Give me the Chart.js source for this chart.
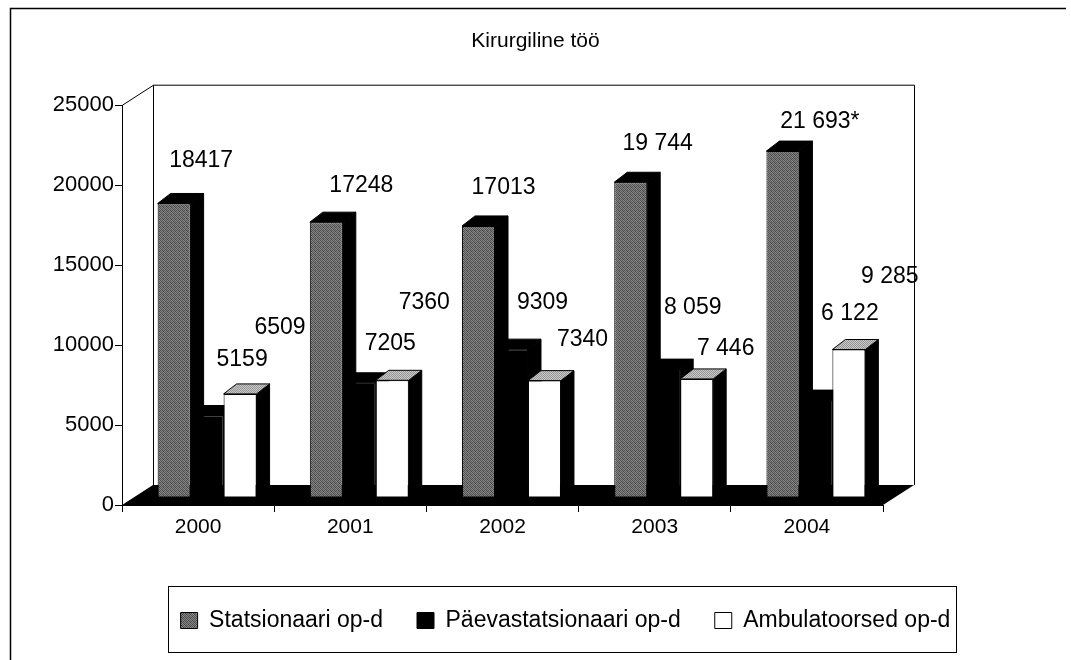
<!DOCTYPE html>
<html><head><meta charset="utf-8">
<script src="https://cdn.jsdelivr.net/npm/chart.js@4"></script>
<style>html,body{margin:0;padding:0;background:#fff;}</style>
</head><body>
<canvas id="c" width="1071" height="660" style="display:block;width:1071px;height:660px"></canvas>
<script>
// ---- data ----
const categories = ['2000', '2001', '2002', '2003', '2004'];
const seriesNames = ['Statsionaari op-d', 'Päevastatsionaari op-d', 'Ambulatoorsed op-d'];
const statsionaari = [18417, 17248, 17013, 19744, 21693];
const paevastatsionaari = [5159, 7205, 9309, 8059, 6122];
const ambulatoorsed = [6509, 7360, 7340, 7446, 9285];
const statsionaariLabels = ['18417', '17248', '17013', '19 744', '21 693*'];
const paevastatsionaariLabels = ['5159', '7205', '9309', '8 059', '6 122'];
const ambulatoorsedLabels = ['6509', '7360', '7340', '7 446', '9 285'];
const yTicks = [0, 5000, 10000, 15000, 20000, 25000];

// ---- style helpers ----
const FONT = "'Liberation Sans', Arial, sans-serif";
function makePattern(levels) {
  const n = levels.length;
  const c = document.createElement('canvas');
  c.width = n; c.height = n;
  const g = c.getContext('2d');
  for (let r = 0; r < n; r++) for (let k = 0; k < n; k++) {
    const v = levels[r][k];
    g.fillStyle = 'rgb(' + v + ',' + v + ',' + v + ')';
    g.fillRect(k, r, 1, 1);
  }
  return g.createPattern(c, 'repeat');
}
const grayPattern = makePattern([[70,130,90,140],[140,65,120,80],[95,135,70,125],[130,80,140,85]]);
const topPattern = makePattern([[150,200],[200,150]]);

const BAR_SHIFT = {x: 9, y: -7};     // bars sit a little behind the floor front edge
const BAR_DEPTH = {x: 13, y: -10};   // 3D depth of each bar
const WALL_DEPTH = {x: 31, y: -20};  // depth of the floor / walls
const LEGEND_SHIFT = 30;
// label placement relative to the top-centre of each bar front (as placed in the original)
const labelNudge = [
  [[27, -43], [35, -37], [25, -38], [27, -39], [37, -29]],
  [[35, -56], [31, -39], [31, -46], [29, -61], [34, -86]],
  [[40, -66], [32, -78], [38, -41], [29, -30], [41, -73]]
];
const seriesStyle = [
  {front: grayPattern, side: '#000', top: '#000', labels: statsionaariLabels},
  {front: '#000', side: '#000', top: '#000', labels: paevastatsionaariLabels},
  {front: '#fff', side: '#000', top: topPattern, labels: ambulatoorsedLabels}
];

const threeD = {
  id: 'threeD',
  afterLayout(chart) {
    const lg = chart.legend;
    lg.left += LEGEND_SHIFT; lg.right += LEGEND_SHIFT;
  },
  beforeDraw(chart) {
    const ctx = chart.ctx;
    ctx.save();
    ctx.fillStyle = '#fff';
    ctx.fillRect(0, 0, chart.width, chart.height);
    ctx.strokeStyle = '#000'; ctx.lineWidth = 1.5;
    ctx.beginPath();
    ctx.moveTo(10.5, 660); ctx.lineTo(10.5, 8.5); ctx.lineTo(1066, 8.5);
    ctx.stroke();
    ctx.restore();
  },
  beforeDatasetsDraw(chart) {
    const ctx = chart.ctx, a = chart.chartArea;
    const L = a.left, R = a.right, T = a.top, B = a.bottom;
    const dx = WALL_DEPTH.x, dy = WALL_DEPTH.y;
    ctx.save();
    ctx.fillStyle = '#000';
    ctx.beginPath();
    ctx.moveTo(L, B); ctx.lineTo(R, B); ctx.lineTo(R + dx, B + dy); ctx.lineTo(L + dx, B + dy);
    ctx.closePath(); ctx.fill();
    ctx.strokeStyle = '#000'; ctx.lineWidth = 1;
    ctx.beginPath();
    ctx.moveTo(L + 0.5, T); ctx.lineTo(L + dx + 0.5, T + dy);
    ctx.lineTo(R + dx + 0.5, T + dy); ctx.lineTo(R + dx + 0.5, B + dy);
    ctx.moveTo(L + dx + 0.5, T + dy); ctx.lineTo(L + dx + 0.5, B + dy);
    ctx.stroke();
    ctx.restore();

    ctx.save();
    ctx.translate(BAR_SHIFT.x, BAR_SHIFT.y);
    const sx = BAR_DEPTH.x, sy = BAR_DEPTH.y;
    chart.data.datasets.forEach((ds, di) => {
      const meta = chart.getDatasetMeta(di);
      const st = seriesStyle[di];
      meta.data.forEach(el => {
        const p = el.getProps(['x', 'y', 'base', 'width'], true);
        const l = p.x - p.width / 2, r = p.x + p.width / 2, t = p.y, b = p.base;
        ctx.fillStyle = st.side; ctx.strokeStyle = '#000'; ctx.lineWidth = 1;
        ctx.beginPath();
        ctx.moveTo(r, t); ctx.lineTo(r + sx, t + sy); ctx.lineTo(r + sx, b + sy); ctx.lineTo(r, b);
        ctx.closePath(); ctx.fill(); ctx.stroke();
        ctx.fillStyle = st.top;
        ctx.beginPath();
        ctx.moveTo(l, t); ctx.lineTo(l + sx, t + sy); ctx.lineTo(r + sx, t + sy); ctx.lineTo(r, t);
        ctx.closePath(); ctx.fill(); ctx.stroke();
      });
    });
  },
  afterDatasetsDraw(chart) {
    const ctx = chart.ctx;
    ctx.restore();
    ctx.save();
    ctx.fillStyle = '#000';
    ctx.font = '23px ' + FONT;
    ctx.textAlign = 'center';
    ctx.textBaseline = 'middle';
    chart.data.datasets.forEach((ds, di) => {
      const meta = chart.getDatasetMeta(di);
      const st = seriesStyle[di];
      meta.data.forEach((el, i) => {
        const p = el.getProps(['x', 'y'], true);
        const n = labelNudge[di][i];
        ctx.fillText(st.labels[i], p.x + BAR_SHIFT.x + n[0], p.y + BAR_SHIFT.y + n[1]);
      });
    });
    ctx.restore();
  },
  afterDraw(chart) {
    const lg = chart.legend, ctx = chart.ctx;
    const pad = lg.options.labels.padding;
    const lw = lg.lineWidths[0];
    const startX = (lg.left + pad + lg.right - lw) / 2;
    ctx.save();
    ctx.strokeStyle = '#000'; ctx.lineWidth = 1;
    ctx.strokeRect(Math.round(startX - 13) + 0.5, 586.5, Math.round(lw - pad + 18), 66);
    ctx.restore();
  }
};

new Chart(document.getElementById('c'), {
  type: 'bar',
  data: {
    labels: categories,
    datasets: [
      {label: seriesNames[0], data: statsionaari, backgroundColor: grayPattern, borderColor: '#000', borderWidth: 1},
      {label: seriesNames[1], data: paevastatsionaari, backgroundColor: '#000', borderColor: '#000', borderWidth: 1},
      {label: seriesNames[2], data: ambulatoorsed, backgroundColor: '#fff', borderColor: '#000', borderWidth: 1}
    ]
  },
  options: {
    responsive: false,
    devicePixelRatio: 1,
    animation: false,
    layout: {padding: {left: 0, right: 0, top: 0, bottom: 18}},
    datasets: {bar: {categoryPercentage: 0.65, barPercentage: 1.0, borderSkipped: false}},
    plugins: {
      title: {
        display: true, text: 'Kirurgiline töö', color: '#000',
        font: {family: FONT, size: 21, weight: 'normal'},
        padding: {top: 29, bottom: 51}
      },
      legend: {
        position: 'bottom',
        labels: {
          color: '#000', font: {family: FONT, size: 23},
          boxWidth: 17, boxHeight: 16, padding: 34
        }
      },
      tooltip: {enabled: false}
    },
    scales: {
      x: {
        type: 'category', offset: true,
        grid: {display: true, drawOnChartArea: false, drawTicks: true, tickLength: 7, color: '#000', offset: true},
        border: {display: true, color: '#000', width: 1},
        ticks: {color: '#000', font: {family: FONT, size: 21}, padding: 3, maxRotation: 0},
        afterFit(s) { s.height = 70; }
      },
      y: {
        min: 0, max: 25000,
        afterBuildTicks(s) { s.ticks = yTicks.map(v => ({value: v})); },
        grid: {display: true, drawOnChartArea: false, drawTicks: true, tickLength: 7, color: '#000'},
        border: {display: true, color: '#000', width: 1},
        ticks: {color: '#000', font: {family: FONT, size: 22}, padding: 1, callback: v => String(v)},
        afterFit(s) { s.width = 122; }
      },
      y2: {
        type: 'linear', position: 'right', display: true,
        grid: {display: false}, border: {display: false}, ticks: {display: false},
        afterFit(s) { s.width = 188; }
      }
    }
  },
  plugins: [threeD]
});
</script>
</body></html>
